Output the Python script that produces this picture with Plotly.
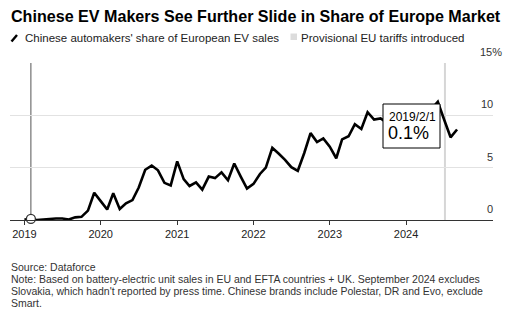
import plotly.graph_objects as go

# ---------------- data ----------------
dates = [f"{y}-{m:02d}-01" for y in range(2019, 2025) for m in range(1, 13)][:69]
share_2019 = [0.05, 0.1, 0.0, 0.05, 0.15, 0.15, 0.15, 0.05, 0.25, 0.3, 0.9, 2.6]
share_2020 = [1.8, 1.0, 2.55, 1.05, 1.6, 1.9, 3.1, 4.8, 5.2, 4.75, 3.55, 3.3]
share_2021 = [5.6, 3.9, 3.25, 3.6, 2.9, 4.15, 4.0, 4.55, 3.8, 5.4, 4.15, 3.0]
share_2022 = [3.45, 4.4, 5.0, 6.9, 6.35, 5.75, 5.05, 4.7, 6.4, 8.3, 7.45, 7.8]
share_2023 = [7.0, 5.9, 7.7, 8.0, 9.15, 8.7, 10.3, 9.6, 9.7, 9.3, 8.6, 8.2]
share_2024 = [9.0, 9.8, 9.3, 10.4, 10.6, 11.3, 9.6, 7.9, 8.65]
share = share_2019 + share_2020 + share_2021 + share_2022 + share_2023 + share_2024

year_ticks = ["2019-01-01", "2020-01-01", "2021-01-01", "2022-01-01", "2023-01-01", "2024-01-01"]
year_labels = ["2019", "2020", "2021", "2022", "2023", "2024"]
y_ticks = [0, 5, 10, 15]
y_labels = ["0", "5", "10", "15%"]
tariff_date = "2024-07-05"
hover_idx = 1

title = "Chinese EV Makers See Further Slide in Share of Europe Market"
legend_line = "Chinese automakers' share of European EV sales"
legend_tariff = "Provisional EU tariffs introduced"
foot_lines = [
    "Source: Dataforce",
    "Note: Based on battery-electric unit sales in EU and EFTA countries + UK. September 2024 excludes",
    "Slovakia, which hadn't reported by press time. Chinese brands include Polestar, DR and Evo, exclude",
    "Smart.",
]

# ---------------- layout helpers ----------------
W, H = 513, 323
L, R, T, B = 10, 493, 63, 220
FONT = "Liberation Sans, Arial, sans-serif"


def px(x):
    return (x - L) / (R - L)


def py(y):
    return (B - y) / (B - T)


fig = go.Figure()

fig.add_trace(go.Scatter(
    x=dates, y=share, mode="lines",
    line=dict(color="#000000", width=2.6),
    cliponaxis=False, showlegend=False, hoverinfo="skip",
))

fig.add_trace(go.Scatter(
    x=[dates[hover_idx]], y=[share[hover_idx]], mode="markers",
    marker=dict(color="white", size=9, line=dict(color="#333333", width=1.3)),
    cliponaxis=False, showlegend=False, hoverinfo="skip",
))

shapes = []
# tariff line
shapes.append(dict(type="line", xref="x", yref="paper", x0=tariff_date, x1=tariff_date,
                   y0=0, y1=1, line=dict(color="#d6d6d6", width=2), layer="below"))
# hover line
shapes.append(dict(type="line", xref="x", yref="paper", x0=dates[hover_idx], x1=dates[hover_idx],
                   y0=0, y1=1, line=dict(color="#555555", width=1), layer="below"))
# tooltip box
shapes.append(dict(type="rect", xref="paper", yref="paper",
                   x0=px(383), x1=px(440), y0=py(148), y1=py(104),
                   fillcolor="white", line=dict(color="#000000", width=1), layer="above"))
# legend icons
shapes.append(dict(type="line", xref="paper", yref="paper",
                   x0=px(11.5), x1=px(17), y0=py(41.5), y1=py(35),
                   line=dict(color="#000000", width=2.4)))
shapes.append(dict(type="rect", xref="paper", yref="paper",
                   x0=px(290.5), x1=px(297), y0=py(40), y1=py(33.5),
                   fillcolor="#dcdcdc", line=dict(width=0)))

ann = []
ann.append(dict(text=f"<b>{title}</b>", x=px(9), y=py(16), xref="paper", yref="paper",
                xanchor="left", yanchor="middle", showarrow=False,
                font=dict(size=16.1, color="#000000", family=FONT)))
ann.append(dict(text=legend_line, x=px(23), y=py(38), xref="paper", yref="paper",
                xanchor="left", yanchor="middle", showarrow=False,
                font=dict(size=11.5, color="#222222", family=FONT)))
ann.append(dict(text=legend_tariff, x=px(299), y=py(38), xref="paper", yref="paper",
                xanchor="left", yanchor="middle", showarrow=False,
                font=dict(size=11.5, color="#222222", family=FONT)))
# y labels (right side, above gridlines)
for v, lab in zip(y_ticks, y_labels):
    right_edge = 504 if lab.endswith("%") else 495
    ann.append(dict(text=lab, x=px(right_edge), y=v, xref="paper", yref="y",
                    xanchor="right", yanchor="middle", yshift=11, showarrow=False,
                    font=dict(size=11, color="#333333", family=FONT)))
# tooltip text
d = dates[hover_idx].split("-")
tip_date = f"{int(d[0])}/{int(d[1])}/{int(d[2])}"
ann.append(dict(text=tip_date, x=px(387), y=py(116.5), xref="paper", yref="paper",
                xanchor="left", yanchor="middle", showarrow=False,
                font=dict(size=12, color="#000000", family=FONT)))
ann.append(dict(text=f"{share[hover_idx]:.1f}%", x=px(386), y=py(133), xref="paper", yref="paper",
                xanchor="left", yanchor="middle", showarrow=False,
                font=dict(size=18, color="#000000", family=FONT)))
# footnotes
for i, line in enumerate(foot_lines):
    ann.append(dict(text=line, x=px(9), y=py(267 + 12 * i), xref="paper", yref="paper",
                    xanchor="left", yanchor="middle", showarrow=False,
                    font=dict(size=10.5, color="#333333", family=FONT)))

fig.update_layout(
    width=W, height=H,
    margin=dict(l=L, r=W - R, t=T, b=H - B, pad=0),
    paper_bgcolor="white", plot_bgcolor="white",
    showlegend=False,
    shapes=shapes, annotations=ann,
    xaxis=dict(type="date", range=["2018-10-24", "2025-02-20"],
               tickvals=year_ticks, ticktext=year_labels,
               ticks="outside", ticklen=4, tickcolor="#333333", tickwidth=1,
               showline=True, linecolor="#333333", linewidth=1,
               showgrid=False, zeroline=False,
               tickfont=dict(size=11, color="#222222", family=FONT)),
    yaxis=dict(range=[0, 15], tickvals=y_ticks, showticklabels=False,
               showgrid=True, gridcolor="#e2e2e2", gridwidth=1,
               zeroline=False, showline=False, ticks=""),
)

fig.write_html("out.html")
